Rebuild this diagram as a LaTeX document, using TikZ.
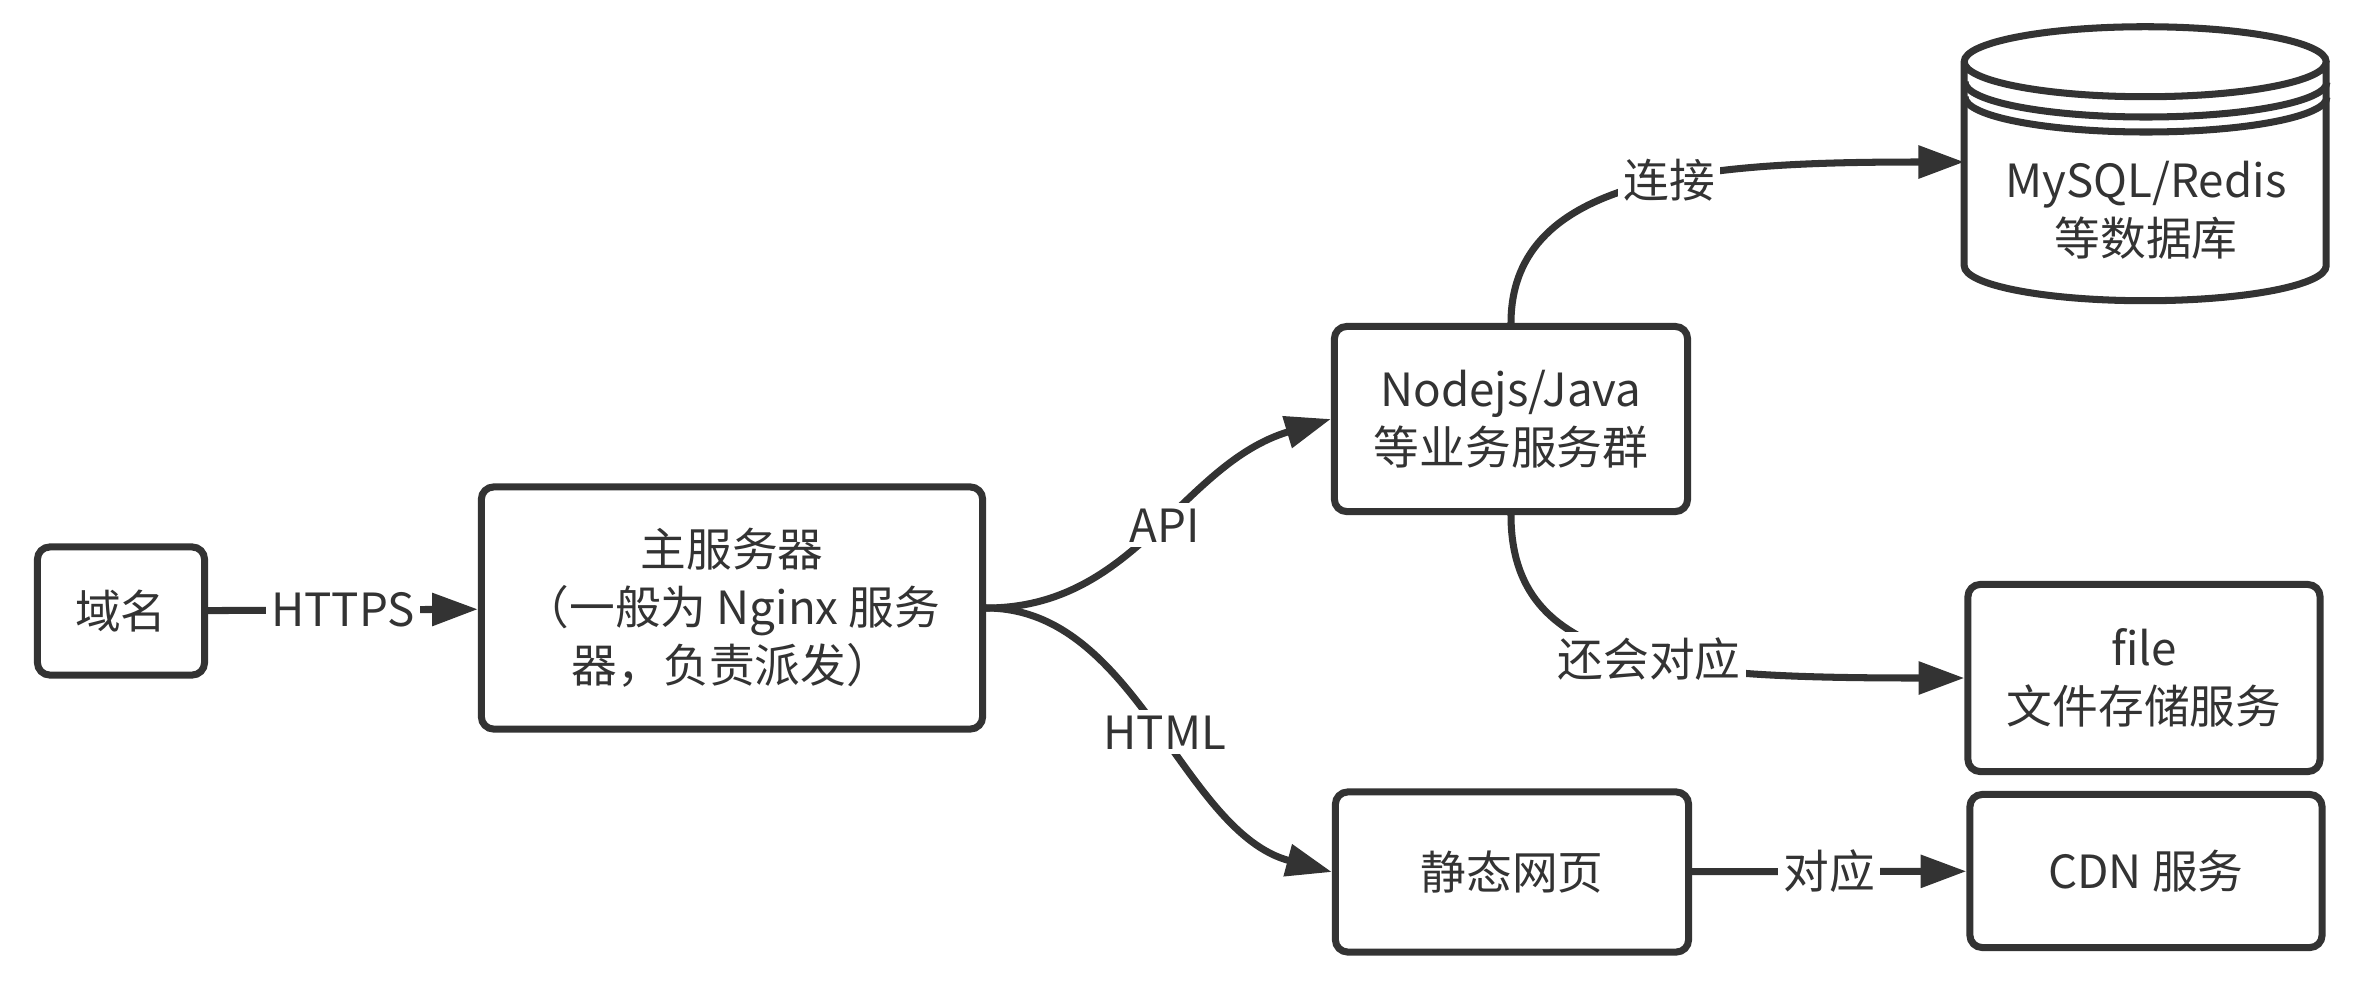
\documentclass[tikz,border=0pt]{standalone}
\usepackage{fontspec}
\setmainfont{Noto Sans CJK SC}
\usetikzlibrary{arrows.meta,positioning}
\definecolor{linec}{HTML}{333333}
\tikzset{
  box/.style={draw=linec,line width=2pt,rounded corners=3.5pt,align=center,
    text=linec,inner sep=0pt},
  conn/.style={draw=linec,line width=2pt,-{Triangle[length=13pt,width=9pt]}},
  lbl/.style={fill=white,text=linec,inner sep=1.5pt},
}
\begin{document}
\begin{tikzpicture}[x=0.01cm,y=-0.01cm,font=\fontsize{13pt}{16.5pt}\selectfont]
                \useasboundingbox (0,0) rectangle (2362,984);
                % Boxes
                \node[box,minimum width=1.67cm,minimum height=1.28cm] (domain) at (121,611) {域名};
                \node[box,minimum width=5.01cm,minimum height=2.42cm] (main) at (732,608) {主服务器\\（一般为 Nginx 服务\\器，负责派发）};
                \node[box,minimum width=3.53cm,minimum height=1.85cm] (biz) at (1511,419) {Nodejs/Java\\等业务服务群};
                \node[box,minimum width=3.52cm,minimum height=1.87cm] (file) at (2144,678) {file\\文件存储服务};
                \node[box,minimum width=3.53cm,minimum height=1.60cm] (page) at (1512,872) {静态网页};
                \node[box,minimum width=3.52cm,minimum height=1.53cm] (cdn) at (2146,871) {CDN 服务};
                % Database
                \node[minimum width=3.62cm,minimum height=2.69cm] (db) at (2146,162) {};
                \node[align=center,text=linec] (dbtext) at (2146,210) {MySQL/Redis\\等数据库};
                \draw[linec,line width=2pt] (db.north west) ++(0,35) arc[start angle=180,end angle=540,x radius=181,y radius=-35]
                  -- ++(0,204) arc[start angle=180,end angle=360,x radius=181,y radius=-35] -- ++(0,-204);
                \draw[linec,line width=2pt] (1965,82) arc[start angle=180,end angle=360,x radius=181,y radius=-35];
                \draw[linec,line width=2pt] (1965,97) arc[start angle=180,end angle=360,x radius=181,y radius=-35];
                % Connectors
                \draw[conn] (domain) -- node[lbl]{HTTPS} (main);
                \draw[conn] (main.east) .. controls +(150,0) and +(-150,45) .. node[lbl,pos=0.52]{API} (biz.west);
                \draw[conn] (main.east) .. controls +(150,0) and +(-150,-40) .. node[lbl,pos=0.52]{HTML} (page.west);
                \draw[conn] (biz.north) .. controls +(0,-150) and +(-250,0) .. node[lbl,pos=0.55]{连接} (db.west);
                \draw[conn] (biz.south) .. controls +(0,150) and +(-300,0) .. node[lbl,pos=0.55]{还会对应} (file.west);
                \draw[conn] (page) -- node[lbl]{对应} (cdn);
\end{tikzpicture}
\end{document}
